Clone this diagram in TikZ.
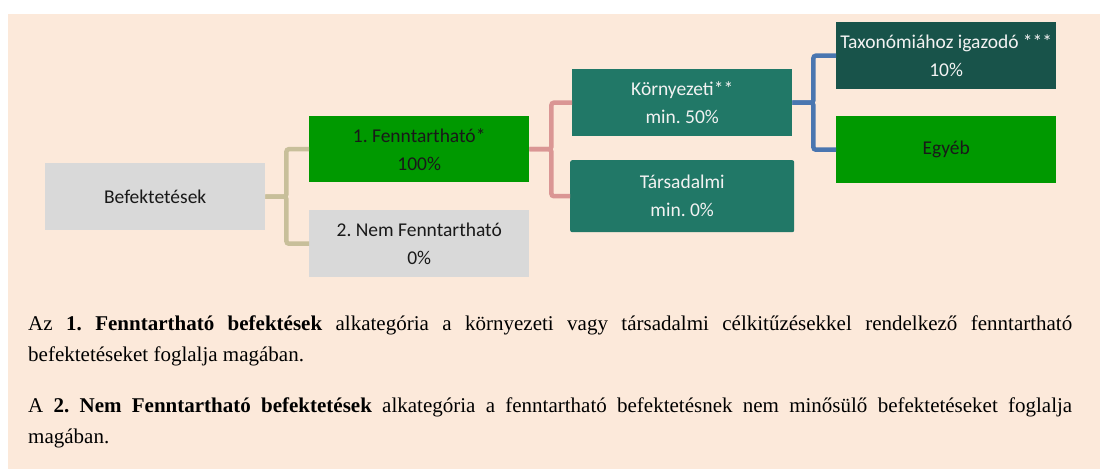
\documentclass[tikz,border=0pt]{standalone}
\usepackage{fontspec}
\setmainfont{Liberation Serif}
\newfontfamily\boxfont{Carlito}
\frenchspacing
\definecolor{bgpeach}{HTML}{FCE9DA}
\definecolor{boxgray}{HTML}{D9D9D9}
\definecolor{boxgreen}{HTML}{009900}
\definecolor{boxteal}{HTML}{217867}
\definecolor{boxdark}{HTML}{18534A}
\definecolor{lntan}{HTML}{C8BF9A}
\definecolor{lnpink}{HTML}{DA9694}
\definecolor{lnblue}{HTML}{4A76B0}
\definecolor{txtlight}{HTML}{F2F2F2}
\begin{document}
\begin{tikzpicture}[x=1pt,y=-1pt,
  box/.style={anchor=north west, inner sep=0pt, align=center,
    font=\boxfont\fontsize{19.5}{28}\selectfont, text=black!90},
  conn/.style={line width=4.5pt, rounded corners=2.5pt},
  para/.style={anchor=base west, inner sep=0pt, text width=1044pt, align=justify,
    font=\frenchspacing\fontsize{21}{31}\selectfont},
]
\useasboundingbox (0,0) rectangle (1100,469);
\fill[white] (0,0) rectangle (1100,469);
\fill[bgpeach] (8,14) rectangle (1100,469);

\node[box, fill=boxgray, minimum width=220pt, minimum height=67pt] (bef) at (45,163) {Befektetések};
\node[box, fill=boxgreen, minimum width=220pt, minimum height=66pt] (fenn) at (309,116) {1. Fenntartható*\\100\%};
\node[box, fill=boxgray, minimum width=220pt, minimum height=67pt] (nem) at (309,210) {2. Nem Fenntartható\\0\%};
\node[box, fill=boxteal, text=txtlight, minimum width=220pt, minimum height=67pt] (korny) at (572,69) {Környezeti**\\min. 50\%};
\node[box, fill=boxteal, text=txtlight, rounded corners=2pt, minimum width=224pt, minimum height=72pt] (tars) at (570,160) {Társadalmi\\min. 0\%};
\node[box, fill=boxdark, text=txtlight, minimum width=220pt, minimum height=67pt] (tax) at (836,22) {Taxonómiához igazodó ***\\10\%};
\node[box, fill=boxgreen, minimum width=220pt, minimum height=67pt] (egyeb) at (836,116) {Egyéb};

\draw[conn, lntan] (bef.east) -- ++(21,0) |- (fenn.west);
\draw[conn, lntan] (bef.east) -- ++(21,0) |- (nem.west);
\draw[conn, lnpink] (fenn.east) -- ++(22,0) |- (korny.west);
\draw[conn, lnpink] (fenn.east) -- ++(22,0) |- (tars.west);
\draw[conn, lnblue] (korny.east) -- ++(21,0) |- (tax.west);
\draw[conn, lnblue] (korny.east) -- ++(21,0) |- (egyeb.west);

\node[para] (p1) at (28,330)
  {Az \textbf{1. Fenntartható befektések} alkategória a környezeti vagy társadalmi célkitűzésekkel rendelkező fenntartható\linebreak befektetéseket foglalja magában.};
\node[para] (p2) at (28,412)
  {A \textbf{2. Nem Fenntartható befektetések} alkategória a fenntartható befektetésnek nem minősülő befektetéseket foglalja\linebreak magában.};
\end{tikzpicture}
\end{document}
